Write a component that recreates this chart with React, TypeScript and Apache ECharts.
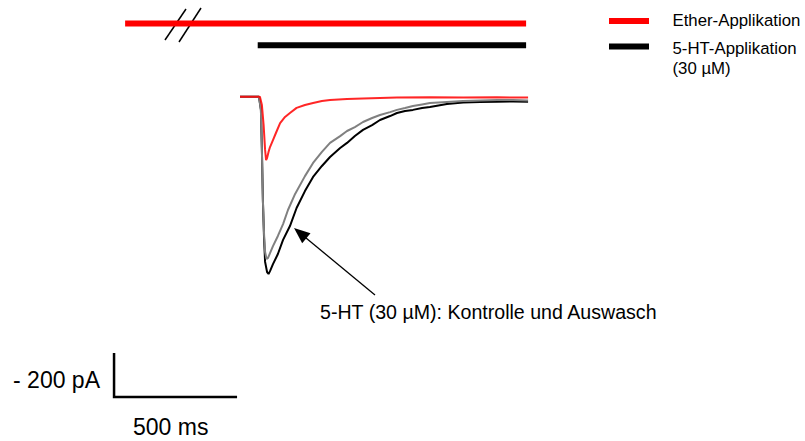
import React, { useEffect, useRef } from "react";
import * as echarts from "echarts";

// ---- data (time in ms, current in pA; 0 ms = start of sweep, 0 pA = baseline) ----
const T_CONTROL = [0, 77, 85, 89, 93, 98, 102, 110, 116, 122, 134, 154, 175, 203, 230, 264, 297, 333, 366, 407, 435, 467, 500, 537, 569, 610, 638, 671, 703, 740, 772, 841, 907, 976, 1045, 1110, 1171];
const I_CONTROL = [0, 0, -60, -242, -470, -651, -751, -797, -806, -793, -761, -715, -651, -588, -506, -429, -365, -315, -274, -233, -210, -179, -151, -129, -106, -88, -74, -65, -60, -51, -47, -33, -26, -24, -23, -22, -23];

const T_WASH = [0, 77, 85, 89, 93, 98, 102, 108, 114, 122, 134, 154, 175, 195, 224, 264, 297, 333, 366, 407, 435, 467, 500, 537, 569, 610, 638, 671, 703, 740, 772, 841, 907, 976, 1045, 1110, 1171];
const I_WASH = [0, 0, -60, -242, -470, -629, -706, -738, -733, -711, -679, -633, -579, -515, -442, -361, -301, -251, -210, -179, -156, -138, -115, -97, -83, -70, -60, -51, -42, -35, -29, -24, -20, -17, -15, -15, -17];

const T_ETHER = [0, 81, 89, 96, 102, 106, 110, 116, 122, 134, 146, 163, 183, 203, 230, 264, 297, 333, 366, 435, 500, 569, 638, 772, 907, 1045, 1171];
const I_ETHER = [0, 0, -38, -129, -242, -288, -279, -251, -229, -197, -165, -120, -92, -74, -51, -38, -29, -20, -15, -10, -8, -6, -4, -3, -4, -3, -4];

// application periods (ms)
const ETHER_APP = [-467, 1163];
const HT_APP = [72, 1163];

// scale bar: 500 ms / 200 pA
const SCALE_T = 500;
const SCALE_I = 200;

// ---- layout ----
const X_MIN = -975.6;
const X_MAX = 2296.7;
const Y_MIN = -1565;
const Y_MAX = 439.5;
const BAR_LEVEL_ETHER = 333;
const BAR_LEVEL_HT = 234;
const SCALE_ORIGIN = [-512, -1365];

const FONT = "'Liberation Sans', Arial, Helvetica, sans-serif";

const zip = (t: number[], v: number[]) => t.map((x, i) => [x, v[i]]);

export default function App() {
  const ref = useRef<HTMLDivElement>(null);
  useEffect(() => {
    if (!ref.current) return;
    const chart = echarts.init(ref.current, null, { renderer: "svg" });
    const trace = (name: string, data: number[][], color: string, z: number, opacity = 1) => ({
      name,
      type: "line",
      data,
      symbol: "none",
      showSymbol: false,
      silent: true,
      z,
      lineStyle: { color, width: 2, opacity },
    });
    const bar = (name: string, period: number[], level: number, color: string) => ({
      name,
      type: "line",
      data: [
        [period[0], level],
        [period[1], level],
      ],
      symbol: "none",
      silent: true,
      lineStyle: { color, width: 6, cap: "butt" },
    });
    const [sx, sy] = SCALE_ORIGIN;
    chart.setOption({
      animation: false,
      backgroundColor: "#ffffff",
      grid: { left: 0, right: 0, top: 0, bottom: 0, containLabel: false },
      xAxis: { type: "value", min: X_MIN, max: X_MAX, show: false },
      yAxis: { type: "value", min: Y_MIN, max: Y_MAX, show: false },
      series: [
        bar("Ether-Applikation", ETHER_APP, BAR_LEVEL_ETHER, "#ff0000"),
        bar("5-HT-Applikation (30 µM)", HT_APP, BAR_LEVEL_HT, "#000000"),
        trace("5-HT Kontrolle", zip(T_CONTROL, I_CONTROL), "#000000", 2),
        trace("5-HT Auswasch", zip(T_WASH, I_WASH), "#808080", 3),
        trace("Ether", zip(T_ETHER, I_ETHER), "#ff0000", 4, 0.85),
        {
          name: "Skala",
          type: "line",
          data: [
            [sx, sy + SCALE_I],
            [sx, sy],
            [sx + SCALE_T, sy],
          ],
          symbol: "none",
          silent: true,
          lineStyle: { color: "#000000", width: 2.5, cap: "butt", join: "miter" },
        },
      ],
      graphic: [
        // break marks on the ether bar
        { type: "line", shape: { x1: 165, y1: 40, x2: 186, y2: 9 }, style: { stroke: "#000", lineWidth: 1.5 } },
        { type: "line", shape: { x1: 179, y1: 42, x2: 201, y2: 8 }, style: { stroke: "#000", lineWidth: 1.5 } },
        // legend
        { type: "rect", shape: { x: 609, y: 18, width: 40, height: 6 }, style: { fill: "#ff0000" } },
        { type: "rect", shape: { x: 609, y: 43.5, width: 40, height: 6 }, style: { fill: "#000000" } },
        {
          type: "text",
          x: 672.5,
          y: 20,
          style: { text: "Ether-Applikation", font: `16.8px ${FONT}`, fill: "#000", textAlign: "left", textVerticalAlign: "middle" },
        },
        {
          type: "text",
          x: 672.5,
          y: 48,
          style: { text: "5-HT-Applikation", font: `16.8px ${FONT}`, fill: "#000", textAlign: "left", textVerticalAlign: "middle" },
        },
        {
          type: "text",
          x: 672.5,
          y: 68,
          style: { text: "(30 µM)", font: `16.8px ${FONT}`, fill: "#000", textAlign: "left", textVerticalAlign: "middle" },
        },
        // annotation arrow
        { type: "line", shape: { x1: 375, y1: 295, x2: 303, y2: 235.5 }, style: { stroke: "#000", lineWidth: 1.3 } },
        {
          type: "polygon",
          shape: { points: [[294, 228], [310.5, 233.2], [302.2, 243.2]] },
          style: { fill: "#000" },
        },
        {
          type: "text",
          x: 320,
          y: 312,
          style: { text: "5-HT (30 µM): Kontrolle und Auswasch", font: `19.6px ${FONT}`, fill: "#000", textAlign: "left", textVerticalAlign: "middle" },
        },
        // scale bar labels
        {
          type: "text",
          x: 100,
          y: 380,
          style: { text: "- 200 pA", font: `23px ${FONT}`, fill: "#000", textAlign: "right", textVerticalAlign: "middle" },
        },
        {
          type: "text",
          x: 133,
          y: 427,
          style: { text: "500 ms", font: `23px ${FONT}`, fill: "#000", textAlign: "left", textVerticalAlign: "middle" },
        },
      ],
    });
    return () => chart.dispose();
  }, []);
  return (
    <div
      ref={ref}
      style={{ position: "absolute", left: 0, top: 0, width: 805, height: 441, background: "#fff" }}
    />
  );
}
